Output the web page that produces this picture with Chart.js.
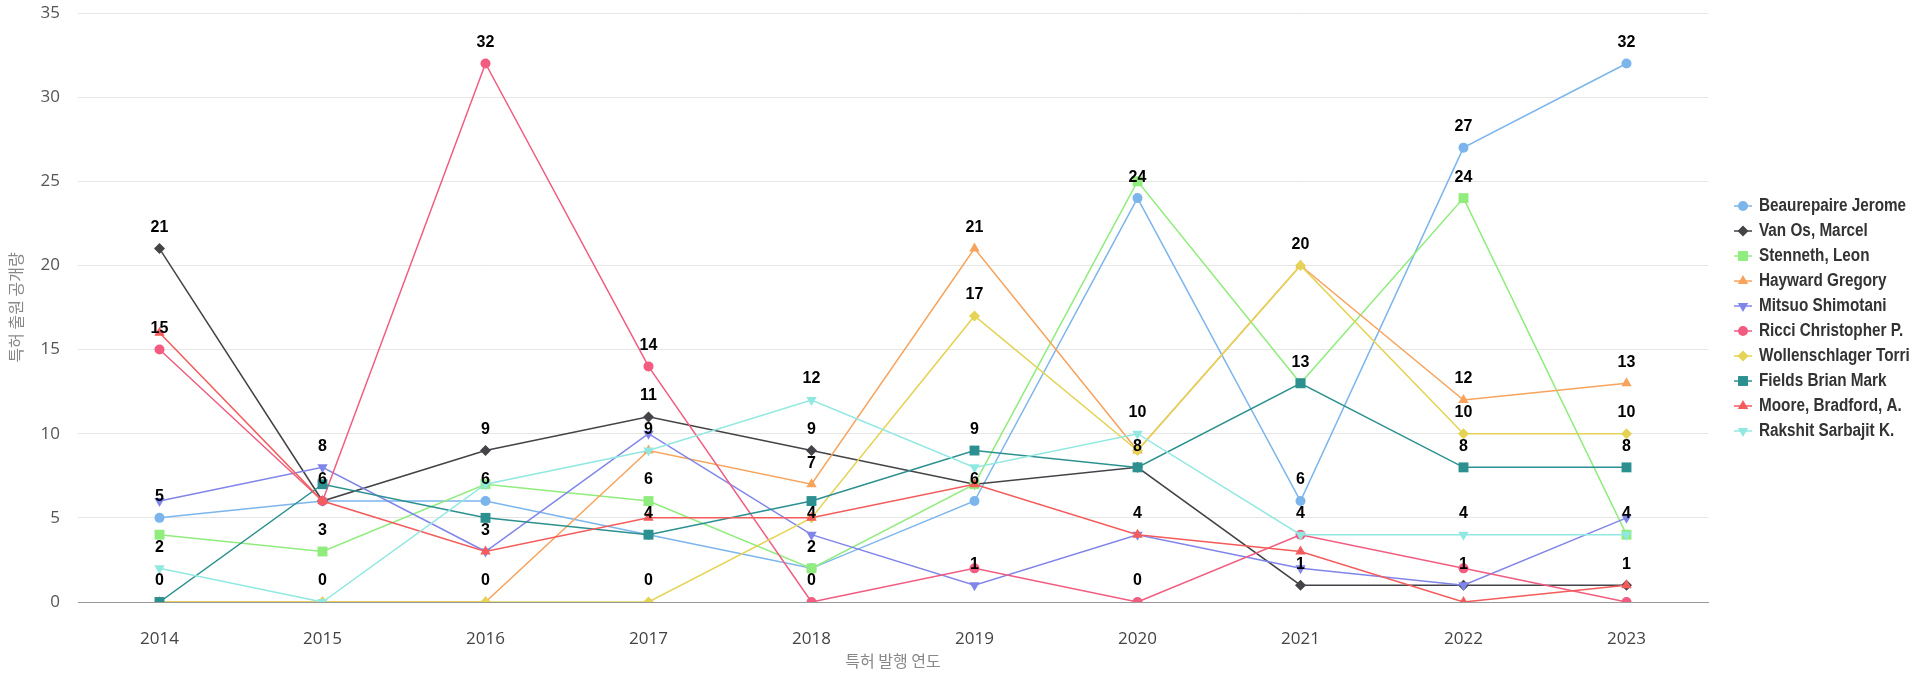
<!DOCTYPE html>
<html lang="ko">
<head>
  <meta charset="UTF-8" />
  <title>특허 출원 공개량</title>
  <script src="https://cdn.jsdelivr.net/npm/chart.js"></script>
  <style>
    body {
      margin: 0;
      background-color: #ffffff;
    }

    .chart-wrap {
      width: 1920px;
      height: 676px;
      position: relative;
    }
  </style>
</head>
<body>

<div class="chart-wrap">
  <canvas id="patentChart"></canvas>
</div>

<script>
  // Data
  const years = ["2014", "2015", "2016", "2017", "2018", "2019", "2020", "2021", "2022", "2023"];

  const beaurepaire    = [5, 6, 6, 4, 2, 6, 24, 6, 27, 32];
  const vanOs          = [21, 6, 9, 11, 9, 7, 8, 1, 1, 1];
  const stenneth       = [4, 3, 7, 6, 2, 7, 25, 13, 24, 4];
  const hayward        = [0, 0, 0, 9, 7, 21, 9, 20, 12, 13];
  const mitsuo         = [6, 8, 3, 10, 4, 1, 4, 2, 1, 5];
  const ricci          = [15, 6, 32, 14, 0, 2, 0, 4, 2, 0];
  const wollenschlager = [0, 0, 0, 0, 5, 17, 9, 20, 10, 10];
  const fields         = [0, 7, 5, 4, 6, 9, 8, 13, 8, 8];
  const moore          = [16, 6, 3, 5, 5, 7, 4, 3, 0, 1];
  const rakshit        = [2, 0, 7, 9, 12, 8, 10, 4, 4, 4];

  const yTitle = "특허 출원 공개량";
  const xTitle = "특허 발행 연도";

  // Series look (highcharts-like palette & markers)
  const series = [
    { name: "Beaurepaire Jerome",   data: beaurepaire,    color: "#7cb5ec", style: "circle",   rot: 0,   r: 5 },
    { name: "Van Os, Marcel",       data: vanOs,          color: "#434348", style: "rectRot",  rot: 0,   r: 5.5 },
    { name: "Stenneth, Leon",       data: stenneth,       color: "#90ed7d", style: "rect",     rot: 0,   r: 7 },
    { name: "Hayward Gregory",      data: hayward,        color: "#f7a35c", style: "triangle", rot: 0,   r: 6 },
    { name: "Mitsuo Shimotani",     data: mitsuo,         color: "#8085e9", style: "triangle", rot: 180, r: 6 },
    { name: "Ricci Christopher P.", data: ricci,          color: "#f15c80", style: "circle",   rot: 0,   r: 5 },
    { name: "Wollenschlager Torri", data: wollenschlager, color: "#e4d354", style: "rectRot",  rot: 0,   r: 5.5 },
    { name: "Fields Brian Mark",    data: fields,         color: "#2b908f", style: "rect",     rot: 0,   r: 7 },
    { name: "Moore, Bradford, A.",  data: moore,          color: "#f45b5b", style: "triangle", rot: 0,   r: 6 },
    { name: "Rakshit Sarbajit K.",  data: rakshit,        color: "#91e8e1", style: "triangle", rot: 180, r: 6 }
  ];

  const tickFont = { family: '"Open Sans", Lato, sans-serif', size: 17 };
  const cjkFont = { family: '"Noto Sans CJK KR", "Noto Sans", sans-serif', size: 16 };

  // Value labels above points, hiding the ones that collide (first series wins)
  const valueLabels = {
    id: 'valueLabels',
    afterDatasetsDraw(chart) {
      const ctx = chart.ctx;
      ctx.save();
      ctx.font = 'bold 16px "Liberation Sans", Arial, sans-serif';
      ctx.textAlign = 'center';
      ctx.textBaseline = 'middle';
      ctx.fillStyle = '#000000';
      const placed = [];
      chart.data.datasets.forEach((ds, i) => {
        const meta = chart.getDatasetMeta(i);
        meta.data.forEach((pt, j) => {
          const text = String(ds.data[j]);
          const w = ctx.measureText(text).width + 10;
          const h = 26;
          const cy = pt.y - 21;
          const box = { x: pt.x - w / 2, y: cy - h / 2, w: w, h: h };
          const hit = placed.some(b =>
            b.x < box.x + box.w && box.x < b.x + b.w &&
            b.y < box.y + box.h && box.y < b.y + b.h);
          if (hit) return;
          placed.push(box);
          ctx.fillText(text, pt.x, cy);
        });
      });
      ctx.restore();
    }
  };

  // Legend on the right: line + marker + bold name (narrow font squeezed)
  const sideLegend = {
    id: 'sideLegend',
    afterDraw(chart) {
      const ctx = chart.ctx;
      ctx.save();
      ctx.font = 'bold 18px "Liberation Sans", Arial, sans-serif';
      ctx.textAlign = 'left';
      ctx.textBaseline = 'middle';
      chart.data.datasets.forEach((ds, i) => {
        const y = 206 + i * 25;
        ctx.strokeStyle = ds.borderColor;
        ctx.lineWidth = 1.5;
        ctx.beginPath();
        ctx.moveTo(1734, y);
        ctx.lineTo(1752, y);
        ctx.stroke();
        ctx.fillStyle = ds.pointBackgroundColor;
        Chart.helpers.drawPoint(ctx, {
          pointStyle: ds.pointStyle,
          rotation: ds.pointRotation,
          radius: ds.pointRadius,
          borderWidth: 0
        }, 1743, y);
        ctx.fillStyle = '#333333';
        ctx.save();
        ctx.translate(1759, y);
        ctx.scale(0.85, 1);
        ctx.fillText(ds.label, 0, 0);
        ctx.restore();
      });
      ctx.restore();
    }
  };

  function renderChart() {
    const datasets = series.map((s, i) => ({
      label: s.name,
      data: s.data,
      borderColor: s.color,
      backgroundColor: s.color,
      borderWidth: 1.5,
      tension: 0,
      pointStyle: s.style,
      pointRotation: s.rot,
      pointRadius: s.r,
      pointBackgroundColor: s.color,
      pointBorderWidth: 0,
      order: series.length - i   // later series on top, as in the original
    }));

    new Chart(document.getElementById('patentChart'), {
      type: 'line',
      data: { labels: years, datasets: datasets },
      options: {
        responsive: true,
        maintainAspectRatio: false,
        animation: false,
        events: [],
        layout: { padding: { left: 0, right: 212, top: 13, bottom: 0 } },
        plugins: {
          legend: { display: false },
          tooltip: { enabled: false }
        },
        scales: {
          x: {
            offset: true,
            grid: { display: false },
            border: { display: true, color: '#999999', width: 1 },
            ticks: { font: tickFont, color: '#444444', padding: 19, maxRotation: 0 },
            title: { display: true, text: xTitle, font: cjkFont, color: '#888888', padding: { top: 0, bottom: 5 } },
            afterFit: (scale) => { scale.height = 74; }
          },
          y: {
            min: 0,
            max: 35,
            ticks: { stepSize: 5, font: tickFont, color: '#555555', padding: 18 },
            grid: {
              color: (c) => (c.tick && c.tick.value === 0) ? '#999999' : '#e6e6e6',
              lineWidth: 1,
              drawTicks: false
            },
            border: { display: false },
            title: { display: true, text: yTitle, font: cjkFont, color: '#888888', padding: { top: 6, bottom: 0 } },
            afterFit: (scale) => {
              scale.width = 78;
              scale.paddingTop = 0;
              scale.paddingBottom = 0;
            }
          }
        }
      },
      plugins: [valueLabels, sideLegend]
    });
  }

  window.onload = () => {
    renderChart();
  };
</script>
</body>
</html>
